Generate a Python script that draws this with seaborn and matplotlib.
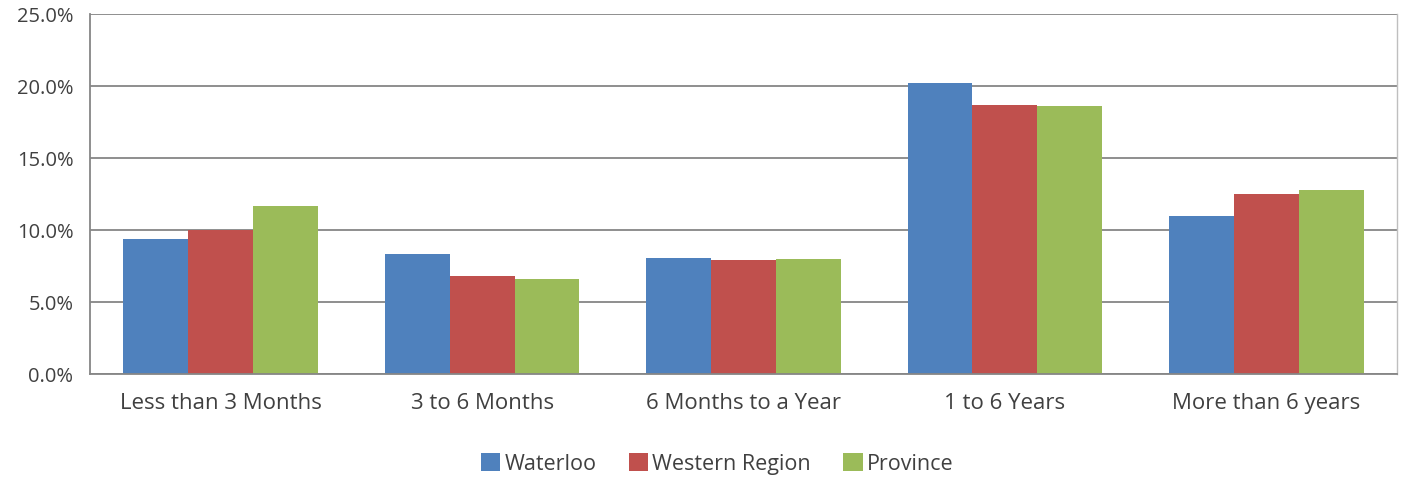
import matplotlib
matplotlib.use("Agg")
import matplotlib.pyplot as plt
import seaborn as sns
import pandas as pd
from matplotlib.ticker import FuncFormatter, MultipleLocator

categories = ["Less than 3 Months", "3 to 6 Months", "6 Months to a Year", "1 to 6 Years", "More than 6 years"]
series = ["Waterloo", "Western Region", "Province"]
waterloo = [9.4, 8.3, 8.05, 20.2, 11.0]
western = [10.0, 6.8, 7.9, 18.7, 12.5]
province = [11.7, 6.6, 8.0, 18.6, 12.75]
colors = ["#4F81BD", "#C0504D", "#9BBB59"]

rows = []
for s, vals in zip(series, [waterloo, western, province]):
    for c, v in zip(categories, vals):
        rows.append({"cat": c, "series": s, "val": v})
df = pd.DataFrame(rows)

sns.set_style("white")
plt.rcParams["font.family"] = ["Open Sans", "DejaVu Sans"]

fig = plt.figure(figsize=(14.02, 4.8), dpi=100)
ax = fig.add_axes([90/1402, 1-374/480, (1397-90)/1402, (374-14)/480])

sns.barplot(data=df, x="cat", y="val", hue="series", order=categories,
            hue_order=series, palette=colors, width=0.745, gap=0,
            saturation=1, ax=ax, linewidth=0, legend=True)

ax.set_ylim(0, 25)
ax.yaxis.set_major_locator(MultipleLocator(5))
ax.yaxis.set_major_formatter(FuncFormatter(lambda v, p: f"{v:.1f}%"))
ax.set_xlim(-0.5, 4.5)
ax.grid(axis="y", color="#868686", linewidth=1.3)
ax.set_axisbelow(True)
ax.set_xlabel("")
ax.set_ylabel("")
for side in ["left", "bottom"]:
    ax.spines[side].set_color("#868686")
    ax.spines[side].set_linewidth(1.3)
ax.spines["right"].set_color("#BFBFBF")
ax.spines["right"].set_linewidth(1.0)
ax.spines["top"].set_visible(False)
ax.tick_params(axis="y", length=0, labelsize=14.5, colors="#404040", pad=12)
ax.tick_params(axis="x", length=0, labelsize=16, colors="#404040", pad=14)

h, l = ax.get_legend_handles_labels()
ax.legend(h, l, loc="center", bbox_to_anchor=(717/1402, 1-464/480),
          bbox_transform=fig.transFigure, ncol=3, frameon=False,
          fontsize=15.5, handlelength=0.9, handleheight=0.9, handletextpad=0.2,
          columnspacing=1.5, labelcolor="#404040")

fig.savefig("out.png", dpi=100)
